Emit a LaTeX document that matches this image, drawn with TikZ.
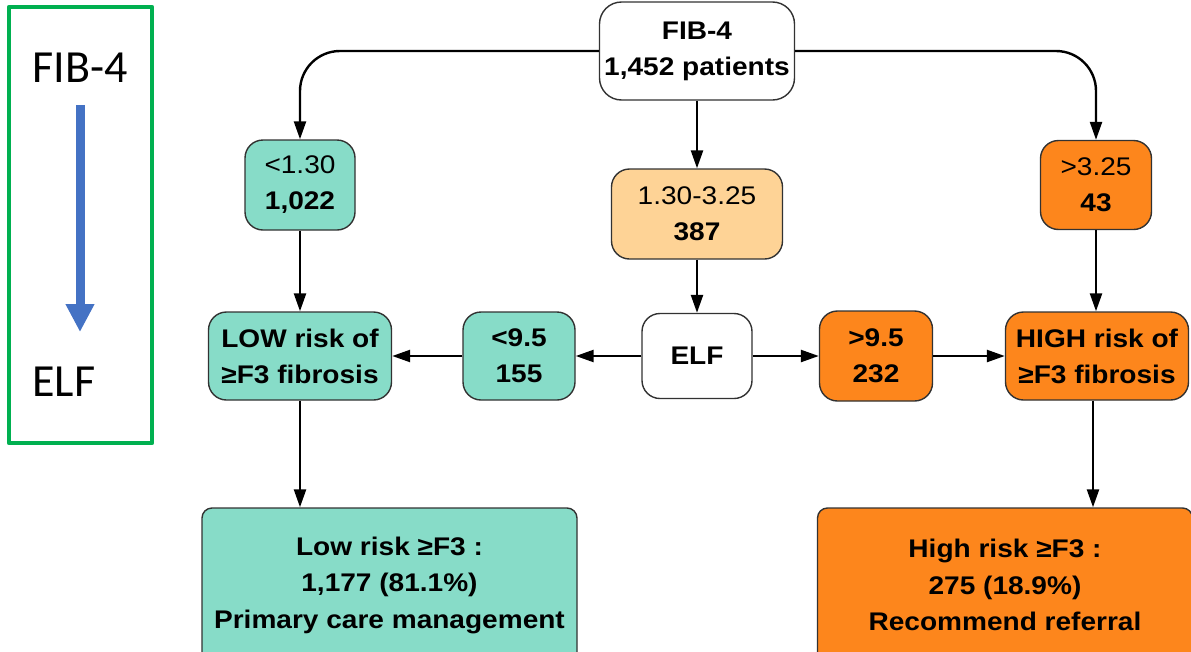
\documentclass[tikz,border=0pt]{standalone}
\usepackage{fontspec}
\setmainfont{Liberation Sans}[FakeStretch=1.1]
\newfontfamily\slidefont{Carlito}
\usetikzlibrary{arrows.meta}
\definecolor{lowteal}{RGB}{135,220,200}
\definecolor{midpeach}{RGB}{254,211,150}
\definecolor{highorange}{RGB}{253,134,28}
\definecolor{boxedge}{RGB}{50,50,50}
\definecolor{panelgreen}{RGB}{0,176,80}
\definecolor{panelblue}{RGB}{68,114,196}

\begin{document}
\begin{tikzpicture}[x=1pt,y=-1pt,line join=round,
    box/.style={draw=boxedge,line width=1.4pt,rounded corners=18pt,align=center,inner sep=0pt,
      font=\fontsize{25.5pt}{36pt}\selectfont},
    boldbox/.style={box,font=\fontsize{25.5pt}{36pt}\selectfont\bfseries},
    outbox/.style={box,rounded corners=10pt,minimum width=375pt,minimum height=154pt,font=\fontsize{25.5pt}{36.5pt}\selectfont\bfseries},
    flow/.style={line width=2.4pt,-{Triangle[length=18pt,width=12pt]}},
    slidetext/.style={inner sep=0pt,font=\fontsize{46pt}{50pt}\slidefont}]
    \useasboundingbox (0,0) rectangle (1191,651);
    % left panel
    \draw[panelgreen,line width=4.5pt] (9,7) rectangle (152,443);
    \node[slidetext] (leftfib) at (80,68) {FIB-4};
    \node[slidetext] (leftelf) at (64,382) {ELF};
    \draw[panelblue,line width=9pt,shorten <=22pt,shorten >=35pt,-{Triangle[length=28pt,width=27pt]}]
      (leftfib.south) -- (leftfib.south |- leftelf.north);
    % FIB-4 split
    \node[boldbox,fill=white,rounded corners=22pt,minimum width=195pt,minimum height=98pt] (fib) at (697,51) {FIB-4\\1,452 patients};
    \node[box,fill=lowteal,minimum width=110pt,minimum height=90pt] (lowfib) at (300,185) {<1.30\\\textbf{1,022}};
    \node[box,fill=midpeach,minimum width=171pt,minimum height=90pt] (midfib) at (697,214) {1.30-3.25\\\textbf{387}};
    \node[box,fill=highorange,minimum width=111pt,minimum height=89pt] (highfib) at (1096,185) {>3.25\\\textbf{43}};
    % ELF row
    \node[boldbox,fill=lowteal,minimum width=183pt,minimum height=88pt] (lowrisk) at (300,356) {LOW risk of\\≥F3 fibrosis};
    \node[boldbox,fill=lowteal,minimum width=112pt,minimum height=88pt] (lowelf) at (519,356) {<9.5\\155};
    \node[boldbox,fill=white,minimum width=110pt,minimum height=85pt] (elf) at (697,356) {ELF};
    \node[boldbox,fill=highorange,minimum width=113pt,minimum height=90pt] (highelf) at (876,356) {>9.5\\232};
    \node[boldbox,fill=highorange,minimum width=183pt,minimum height=88pt] (highrisk) at (1097,356) {HIGH risk of\\≥F3 fibrosis};
    % outcomes
    \node[outbox,fill=lowteal] (lowout) at (389.5,585) {Low risk ≥F3 :\\1,177 (81.1\%)\\Primary care management};
    \node[outbox,fill=highorange] (highout) at (1005,585) {High risk ≥F3 :\\275 (18.9\%)\\Recommend referral};
    % connectors
    \draw[flow,rounded corners=40pt] (fib.west) -| (lowfib.north);
    \draw[flow,rounded corners=40pt] (fib.east) -| (highfib.north);
    \draw[flow] (fib.south) -- (midfib.north);
    \draw[flow] (lowfib.south) -- (lowrisk.north);
    \draw[flow] (midfib.south) -- (elf.north);
    \draw[flow] (highfib.south) -- (highfib.south |- highrisk.north);
    \draw[flow] (elf.west) -- (lowelf.east);
    \draw[flow] (lowelf.west) -- (lowrisk.east);
    \draw[flow] (elf.east) -- (highelf.west);
    \draw[flow] (highelf.east) -- (highrisk.west);
    \draw[flow] (lowrisk.south) -- (lowrisk.south |- lowout.north);
    \draw[flow] ([xshift=-4pt]highrisk.south) -- ([xshift=-4pt]highrisk.south |- highout.north);
\end{tikzpicture}
\end{document}
